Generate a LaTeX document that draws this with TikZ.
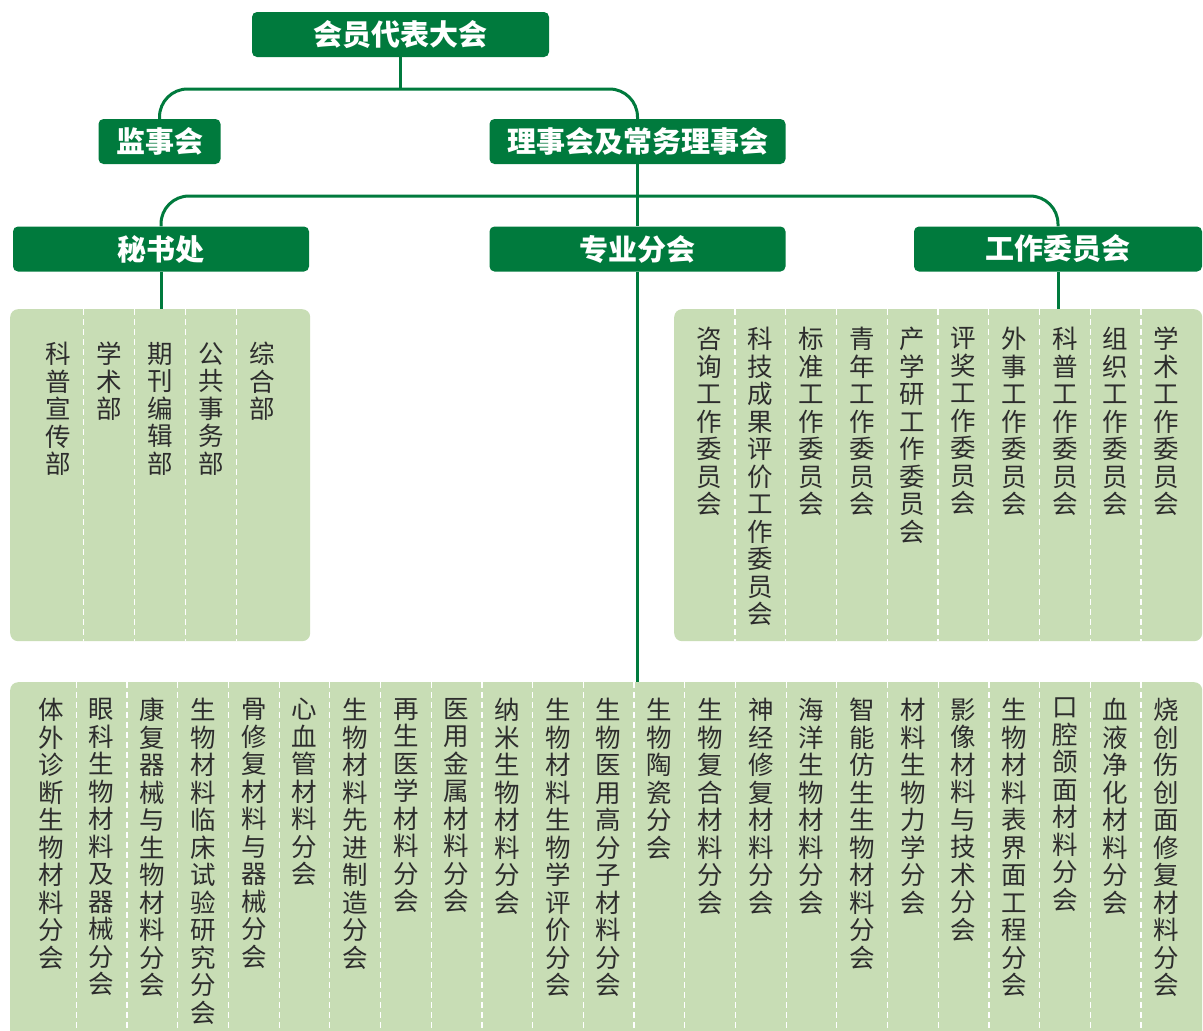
\documentclass[tikz,border=0pt]{standalone}
\usepackage{fontspec}
\newfontfamily\cjk{Noto Sans CJK SC}
\XeTeXlinebreaklocale "zh"
\XeTeXlinebreakskip=0pt plus 1pt
\definecolor{dgreen}{RGB}{0,122,61}
\definecolor{lgreen}{RGB}{200,221,181}
\definecolor{tgray}{RGB}{45,45,45}

\begin{document}
\begin{tikzpicture}[x=1pt, y=-1pt,
    head/.style={fill=dgreen, text=white, rounded corners=5pt, minimum height=45pt,
      inner sep=0pt, font=\cjk\bfseries\fontsize{29}{31}\selectfont},
    link/.style={draw=dgreen, line width=3pt, rounded corners=28pt},
    panel/.style={fill=lgreen, rounded corners=8pt, inner sep=0pt, anchor=north west},
    sep/.style={draw=white, line width=1.2pt, dash pattern=on 6pt off 4pt},
    col/.style={anchor=north, text width=27pt, align=center, inner sep=0pt,
      text=tgray, font=\cjk\fontsize{25.5}{27.5}\selectfont}
    ]
    \useasboundingbox[fill=white] (0,0) rectangle (1203,1031);
    \node[head, minimum width=297pt] (hy) at (400.5,34.5) {会员代表大会};
    \node[head, minimum width=122pt] (js) at (159.5,141.5) {监事会};
    \node[head, minimum width=296pt] (ls) at (637.5,141.5) {理事会及常务理事会};
    \node[head, minimum width=296pt] (ms) at (161,249) {秘书处};
    \node[head, minimum width=296pt] (zy) at (637.5,249) {专业分会};
    \node[head, minimum width=288pt] (gz) at (1058,249) {工作委员会};
    \node[panel, minimum width=300pt, minimum height=332pt] (pm) at (10,309) {};
    \node[panel, minimum width=528pt, minimum height=332pt] (pg) at (674,309) {};
    \node[panel, minimum width=1192pt, minimum height=370pt] (pz) at (10,682) {};
    \coordinate (k1) at (400.5,89);
    \coordinate (k2) at (637.5,196);
    \draw[link] (hy.south) -- (k1);
    \draw[link] (js.north) |- (k1) -| (ls.north);
    \draw[link] (ls.south) -- (zy.north);
    \draw[link] (ms.north) |- (k2) -| (gz.north);
    \draw[link] (ms.south) -- (ms.south |- pm.north);
    \draw[link] (gz.south) -- (gz.south |- pg.north);
    \draw[link] (zy.south) -- (zy.south |- pz.north);
    \foreach \i in {0,...,3}
      \draw[sep] (83.5+51*\i,309) -- (83.5+51*\i,641);
    \foreach \i in {0,...,8}
      \draw[sep] (735+50.75*\i,309) -- (735+50.75*\i,641);
    \foreach \i in {0,...,21}
      \draw[sep] (76.35+50.7*\i,682) -- (76.35+50.7*\i,1031);
    \foreach \t [count=\i from 0] in {科普宣传部, 学术部, 期刊编辑部, 公共事务部, 综合部}
      \node[col] (m\i) at (58+51*\i,342) {\t};
    \foreach \t [count=\i from 0] in {咨询工作委员会, 科技成果评价工作委员会, 标准工作委员会,
        青年工作委员会, 产学研工作委员会, 评奖工作委员会, 外事工作委员会,
        科普工作委员会, 组织工作委员会, 学术工作委员会}
      \node[col] (g\i) at (709.5+50.75*\i,327) {\t};
    \foreach \t [count=\i from 0] in {体外诊断生物材料分会, 眼科生物材料及器械分会,
        康复器械与生物材料分会, 生物材料临床试验研究分会, 骨修复材料与器械分会,
        心血管材料分会, 生物材料先进制造分会, 再生医学材料分会, 医用金属材料分会,
        纳米生物材料分会, 生物材料生物学评价分会, 生物医用高分子材料分会,
        生物陶瓷分会, 生物复合材料分会, 神经修复材料分会, 海洋生物材料分会,
        智能仿生生物材料分会, 材料生物力学分会, 影像材料与技术分会,
        生物材料表界面工程分会, 口腔颌面材料分会, 血液净化材料分会,
        烧创伤创面修复材料分会}
      \node[col] (z\i) at (51+50.7*\i,698) {\t};
  \end{tikzpicture}
\end{document}
